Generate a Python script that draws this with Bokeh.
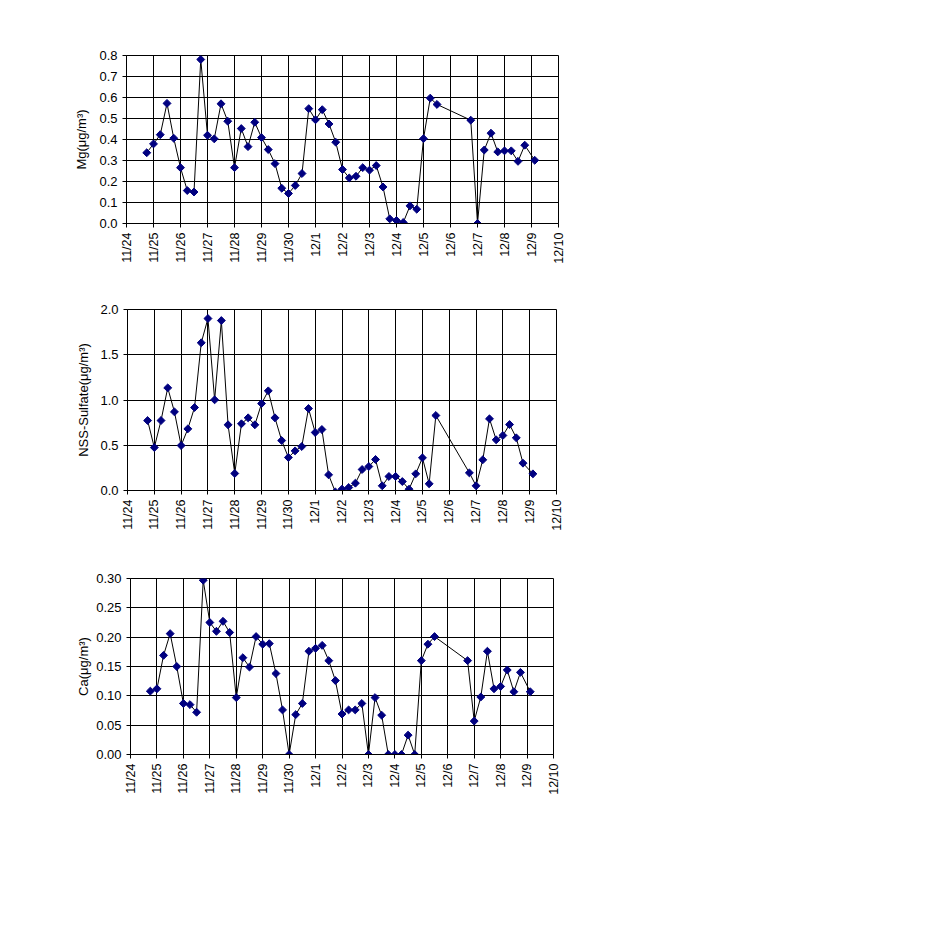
import math
from bokeh.plotting import figure
from bokeh.models import FixedTicker, NumeralTickFormatter, Range1d
from bokeh.embed import file_html
from bokeh.resources import INLINE

# Sample times, days after 11/24 00:00
times = [0.75, 1.0, 1.25, 1.5, 1.75, 2.0, 2.25, 2.5, 2.75, 3.0,
         3.25, 3.5, 3.75, 4.0, 4.25, 4.5, 4.75, 5.0, 5.25, 5.5,
         5.75, 6.0, 6.25, 6.5, 6.75, 7.0, 7.25, 7.5, 7.75, 8.0,
         8.25, 8.5, 8.75, 9.0, 9.25, 9.5, 9.75, 10.0, 10.25, 10.5,
         10.75, 11.0, 11.25, 11.5,
         12.75, 13.0, 13.25, 13.5, 13.75, 14.0, 14.25, 14.5, 14.75, 15.12]

mg = [0.337, 0.379, 0.423, 0.572, 0.406, 0.266, 0.157, 0.150, 0.781, 0.420,
      0.403, 0.570, 0.487, 0.266, 0.452, 0.366, 0.482, 0.409, 0.352, 0.285,
      0.168, 0.143, 0.181, 0.238, 0.547, 0.494, 0.542, 0.474, 0.387, 0.257,
      0.217, 0.225, 0.266, 0.254, 0.276, 0.174, 0.022, 0.014, 0.005, 0.084,
      0.068, 0.404, 0.597, 0.567,
      0.492, 0.0, 0.350, 0.430, 0.341, 0.346, 0.346, 0.296, 0.373, 0.301]

nss = [0.773, 0.475, 0.773, 1.134, 0.869, 0.497, 0.681, 0.917, 1.632, 1.900,
       1.002, 1.878, 0.726, 0.188, 0.737, 0.803, 0.726, 0.961, 1.101, 0.803,
       0.552, 0.365, 0.438, 0.486, 0.906, 0.641, 0.674, 0.173, -0.015, 0.015,
       0.033, 0.081, 0.232, 0.265, 0.343, 0.052, 0.155, 0.155, 0.099, 0.015,
       0.184, 0.361, 0.074, 0.829,
       0.195, 0.052, 0.339, 0.792, 0.560, 0.608, 0.729, 0.582, 0.302, 0.184]

ca = [0.108, 0.112, 0.169, 0.206, 0.150, 0.087, 0.085, 0.072, 0.297, 0.225,
      0.210, 0.227, 0.208, 0.097, 0.165, 0.149, 0.201, 0.188, 0.189, 0.138,
      0.076, 0.0, 0.068, 0.087, 0.176, 0.181, 0.186, 0.160, 0.126, 0.069,
      0.076, 0.076, 0.087, 0.0, 0.097, 0.067, 0.0, 0.0, 0.0, 0.033,
      0.0, 0.160, 0.188, 0.201,
      0.160, 0.057, 0.098, 0.176, 0.112, 0.116, 0.144, 0.107, 0.140, 0.107]

date_labels = ["11/24", "11/25", "11/26", "11/27", "11/28", "11/29", "11/30",
               "12/1", "12/2", "12/3", "12/4", "12/5", "12/6", "12/7", "12/8",
               "12/9", "12/10"]
date_ticks = list(range(len(date_labels)))

mg_ticks = [0.0, 0.1, 0.2, 0.3, 0.4, 0.5, 0.6, 0.7, 0.8]
nss_ticks = [0.0, 0.5, 1.0, 1.5, 2.0]
ca_ticks = [0.0, 0.05, 0.10, 0.15, 0.20, 0.25, 0.30]

FONT = "Liberation Sans"


def make_panel(y, yticks, fmt, label, left, top, fw, fh, lab_standoff):
    p = figure(frame_width=fw, frame_height=fh,
               min_border_left=left, min_border_top=top,
               min_border_right=20, min_border_bottom=50,
               x_range=Range1d(0, 16), y_range=Range1d(yticks[0], yticks[-1]),
               output_backend="svg", toolbar_location=None)
    p.background_fill_color = "white"
    p.border_fill_color = "white"
    p.outline_line_color = "black"
    p.outline_line_width = 1

    p.line(times, y, line_color="black", line_width=1)
    p.scatter(times, y, marker="square", angle=math.pi / 4, size=5.6,
              fill_color="#000080", line_color="#000080")

    p.xaxis.ticker = FixedTicker(ticks=date_ticks)
    p.xaxis.major_label_overrides = {i: s for i, s in zip(date_ticks, date_labels)}
    p.xaxis.major_label_orientation = math.pi / 2
    p.xaxis.major_label_text_font = FONT
    p.xaxis.major_label_text_font_size = "12.5px"
    p.xaxis.major_label_standoff = 5

    p.yaxis.ticker = FixedTicker(ticks=yticks)
    p.yaxis.formatter = NumeralTickFormatter(format=fmt)
    p.yaxis.major_label_text_font = FONT
    p.yaxis.major_label_text_font_size = "13px"
    p.yaxis.major_label_standoff = 5
    p.yaxis.axis_label = label
    p.yaxis.axis_label_text_font = FONT
    p.yaxis.axis_label_text_font_size = "13px"
    p.yaxis.axis_label_text_font_style = "normal"
    p.yaxis.axis_label_standoff = lab_standoff

    for ax in (p.xaxis, p.yaxis):
        ax.axis_line_color = "black"
        ax.major_tick_line_color = "black"
        ax.major_tick_out = 4
        ax.major_tick_in = 0
        ax.minor_tick_line_color = None
        ax.major_label_text_color = "black"
        ax.axis_label_text_color = "black"

    p.xgrid.ticker = FixedTicker(ticks=date_ticks)
    p.ygrid.ticker = FixedTicker(ticks=yticks)
    for g in (p.xgrid, p.ygrid):
        g.grid_line_color = "black"
        g.grid_line_width = 1
        g.grid_line_alpha = 1.0
    return p


p1 = make_panel(mg, mg_ticks, "0.0", "Mg(μg/m³)", 126, 55, 432, 168, 7)
p2 = make_panel(nss, nss_ticks, "0.0", "NSS-Sulfate(μg/m³)", 127, 36, 429, 181, 6)
p3 = make_panel(ca, ca_ticks, "0.00", "Ca(μg/m³)", 130, 38, 423, 176, 2)

open("out.html", "w").write(file_html([p1, p2, p3], INLINE))
